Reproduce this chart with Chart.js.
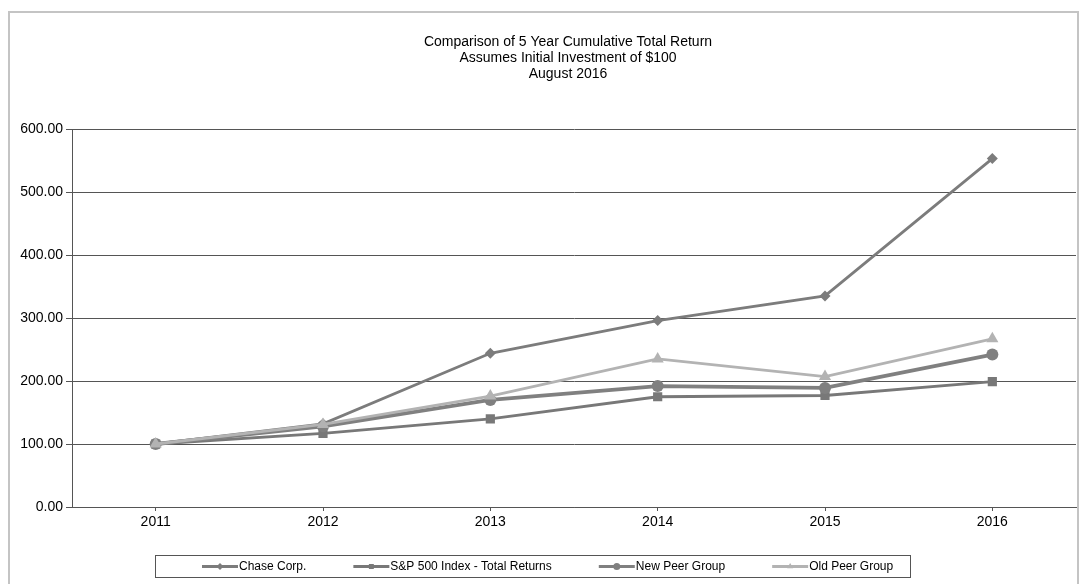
<!DOCTYPE html>
<html>
<head>
<meta charset="utf-8">
<script src="https://cdn.jsdelivr.net/npm/chart.js@4/dist/chart.umd.min.js"></script>
<style>
  html, body { margin: 0; padding: 0; background: #fff; overflow: hidden; }
  #wrap { width: 1083px; height: 584px; }
</style>
</head>
<body>
<div id="wrap"><canvas id="chart"></canvas></div>
<script>
// chart data
const years = ['2011', '2012', '2013', '2014', '2015', '2016'];
const chaseCorp = [100, 132, 244, 296, 335, 553];
const sp500 = [100, 117, 140, 175, 177, 199];
const newPeer = [100, 128, 170, 192, 189, 242];
const oldPeer = [100, 131, 176, 235, 207, 267];
const titleLines = ['Comparison of 5 Year Cumulative Total Return', 'Assumes Initial Investment of $100', 'August 2016'];

const FONT = "'Liberation Sans', Arial, sans-serif";

const series = [
    { label: 'Chase Corp.', data: chaseCorp, color: '#7c7c7c', width: 2.8, style: 'rectRot', radius: 5.5 },
    { label: 'S&P 500 Index - Total Returns', data: sp500, color: '#787878', width: 2.8, style: 'rect', radius: 6.5 },
    { label: 'New Peer Group', data: newPeer, color: '#808080', width: 3.8, style: 'circle', radius: 6 },
    { label: 'Old Peer Group', data: oldPeer, color: '#b3b3b3', width: 2.8, style: 'triangle', radius: 7 }
];

// frame, title and boxed legend drawn like the original export
const decorPlugin = {
    id: 'decor',
    beforeDraw(chart) {
        const ctx = chart.ctx;
        ctx.save();
        ctx.strokeStyle = '#c4c4c4';
        ctx.lineWidth = 2;
        ctx.strokeRect(9, 12, 1069, 600);
        ctx.restore();
    },
    afterDraw(chart) {
        const ctx = chart.ctx;
        ctx.save();
        ctx.fillStyle = '#000';
        ctx.font = '14px ' + FONT;
        ctx.textAlign = 'center';
        ctx.textBaseline = 'middle';
        titleLines.forEach((t, i) => ctx.fillText(t, 568, 42 + i * 16));

        // legend
        ctx.strokeStyle = '#555';
        ctx.lineWidth = 1;
        ctx.strokeRect(155.5, 555.5, 755, 22);
        ctx.font = '12px ' + FONT;
        ctx.textAlign = 'left';
        let x = 202;
        const y = 566.5;
        series.forEach(s => {
            ctx.strokeStyle = s.color;
            ctx.lineWidth = 3;
            ctx.beginPath();
            ctx.moveTo(x, y);
            ctx.lineTo(x + 36, y);
            ctx.stroke();
            ctx.fillStyle = s.color;
            Chart.helpers.drawPoint(ctx, { pointStyle: s.style, radius: 3.5, rotation: 0, borderWidth: 0 }, x + 18, y);
            ctx.fillStyle = '#000';
            ctx.fillText(s.label, x + 37, y);
            x += 37 + ctx.measureText(s.label).width + 47;
        });
        ctx.restore();
    }
};

const ctx = document.getElementById('chart').getContext('2d');
new Chart(ctx, {
    type: 'line',
    data: {
        labels: years,
        datasets: series.map((s, i) => ({
            label: s.label,
            data: s.data,
            borderColor: s.color,
            backgroundColor: s.color,
            borderWidth: s.width,
            pointStyle: s.style,
            pointRadius: s.radius,
            pointHoverRadius: s.radius,
            pointBorderWidth: 0,
            tension: 0,
            order: 4 - i
        }))
    },
    options: {
        responsive: true,
        maintainAspectRatio: false,
        animation: false,
        devicePixelRatio: 1,
        layout: { padding: { left: 14, right: -3, top: 129, bottom: 50 } },
        plugins: {
            legend: { display: false },
            title: { display: false },
            tooltip: { enabled: false }
        },
        scales: {
            x: {
                offset: true,
                grid: { drawOnChartArea: false, drawTicks: true, tickLength: 4, color: '#555' },
                border: { color: '#555', width: 1 },
                ticks: { color: '#000', font: { size: 14, family: FONT }, padding: 3 },
                afterFit(scale) {
                    scale.height = 27;
                    scale.paddingLeft = 0;
                    scale.paddingRight = 0;
                }
            },
            y: {
                min: 0,
                max: 600,
                grid: { color: '#555', lineWidth: 1, tickLength: 6 },
                border: { color: '#555', width: 1 },
                ticks: {
                    stepSize: 100,
                    color: '#000',
                    font: { size: 14, family: FONT },
                    padding: 3,
                    callback: v => v.toFixed(2)
                },
                afterFit(scale) {
                    scale.width = 58;
                    scale.paddingTop = 0;
                    scale.paddingBottom = 0;
                }
            }
        }
    },
    plugins: [decorPlugin]
});
</script>
</body>
</html>
